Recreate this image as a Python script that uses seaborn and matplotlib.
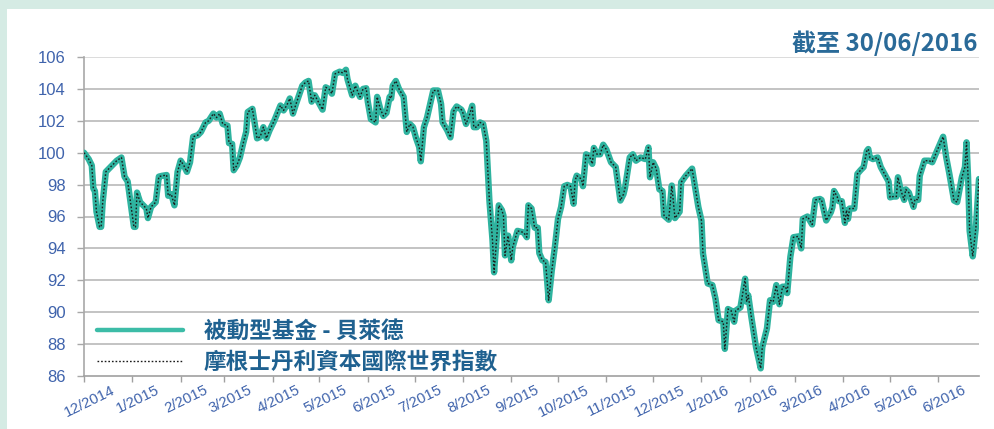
import matplotlib
matplotlib.use("Agg")
import matplotlib.pyplot as plt
import matplotlib.dates as mdates
from matplotlib.lines import Line2D
from matplotlib.patches import Rectangle
from matplotlib.ticker import FuncFormatter
from matplotlib.transforms import ScaledTranslation
import pandas as pd
import seaborn as sns

# ---------------- data ----------------
dates = [
    "2014-12-01", "2014-12-04", "2014-12-06", "2014-12-07", "2014-12-08", "2014-12-09",
    "2014-12-11", "2014-12-12", "2014-12-13", "2014-12-15", "2014-12-18", "2014-12-22",
    "2014-12-25", "2014-12-27", "2014-12-29", "2015-01-02", "2015-01-03", "2015-01-04",
    "2015-01-06", "2015-01-08", "2015-01-10", "2015-01-11", "2015-01-13", "2015-01-16",
    "2015-01-18", "2015-01-20", "2015-01-23", "2015-01-24", "2015-01-26", "2015-01-28",
    "2015-01-30", "2015-02-01", "2015-02-03", "2015-02-05", "2015-02-07", "2015-02-09",
    "2015-02-12", "2015-02-14", "2015-02-17", "2015-02-19", "2015-02-22", "2015-02-24",
    "2015-02-26", "2015-02-28", "2015-03-03", "2015-03-04", "2015-03-06", "2015-03-07",
    "2015-03-09", "2015-03-11", "2015-03-13", "2015-03-15", "2015-03-16", "2015-03-19",
    "2015-03-22", "2015-03-24", "2015-03-26", "2015-03-28", "2015-03-30", "2015-04-02",
    "2015-04-06", "2015-04-08", "2015-04-10", "2015-04-12", "2015-04-14", "2015-04-16",
    "2015-04-20", "2015-04-22", "2015-04-24", "2015-04-26", "2015-04-28", "2015-05-01",
    "2015-05-03", "2015-05-05", "2015-05-07", "2015-05-09", "2015-05-11", "2015-05-14",
    "2015-05-16", "2015-05-18", "2015-05-19", "2015-05-22", "2015-05-24", "2015-05-27",
    "2015-05-29", "2015-05-31", "2015-06-01", "2015-06-03", "2015-06-06", "2015-06-07",
    "2015-06-09", "2015-06-11", "2015-06-13", "2015-06-15", "2015-06-16", "2015-06-17",
    "2015-06-19", "2015-06-21", "2015-06-24", "2015-06-26", "2015-06-28", "2015-06-30",
    "2015-07-02", "2015-07-04", "2015-07-05", "2015-07-07", "2015-07-09", "2015-07-11",
    "2015-07-13", "2015-07-16", "2015-07-18", "2015-07-19", "2015-07-22", "2015-07-24",
    "2015-07-26", "2015-07-28", "2015-07-31", "2015-08-01", "2015-08-03", "2015-08-05",
    "2015-08-07", "2015-08-08", "2015-08-10", "2015-08-12", "2015-08-14", "2015-08-16",
    "2015-08-18", "2015-08-20", "2015-08-21", "2015-08-23", "2015-08-24", "2015-08-26",
    "2015-08-27", "2015-08-28", "2015-08-30", "2015-09-01", "2015-09-02", "2015-09-05",
    "2015-09-09", "2015-09-11", "2015-09-12", "2015-09-14", "2015-09-16", "2015-09-18",
    "2015-09-19", "2015-09-21", "2015-09-23", "2015-09-24", "2015-09-25", "2015-09-27",
    "2015-09-29", "2015-10-01", "2015-10-03", "2015-10-05", "2015-10-07", "2015-10-09",
    "2015-10-11", "2015-10-12", "2015-10-13", "2015-10-16", "2015-10-17", "2015-10-19",
    "2015-10-21", "2015-10-23", "2015-10-24", "2015-10-26", "2015-10-28", "2015-10-30",
    "2015-11-01", "2015-11-04", "2015-11-07", "2015-11-10", "2015-11-12", "2015-11-13",
    "2015-11-16", "2015-11-18", "2015-11-20", "2015-11-23", "2015-11-26", "2015-11-28",
    "2015-11-29", "2015-12-01", "2015-12-03", "2015-12-05", "2015-12-07", "2015-12-08",
    "2015-12-11", "2015-12-13", "2015-12-15", "2015-12-18", "2015-12-19", "2015-12-22",
    "2015-12-26", "2015-12-28", "2015-12-30", "2016-01-01", "2016-01-02", "2016-01-05",
    "2016-01-08", "2016-01-10", "2016-01-12", "2016-01-15", "2016-01-16", "2016-01-18",
    "2016-01-20", "2016-01-22", "2016-01-23", "2016-01-26", "2016-01-29", "2016-01-30",
    "2016-01-31", "2016-02-02", "2016-02-05", "2016-02-08", "2016-02-09", "2016-02-12",
    "2016-02-14", "2016-02-16", "2016-02-18", "2016-02-20", "2016-02-22", "2016-02-24",
    "2016-02-25", "2016-02-27", "2016-02-29", "2016-03-03", "2016-03-05", "2016-03-06",
    "2016-03-09", "2016-03-12", "2016-03-14", "2016-03-17", "2016-03-18", "2016-03-21",
    "2016-03-24", "2016-03-25", "2016-03-26", "2016-03-28", "2016-03-29", "2016-03-31",
    "2016-04-02", "2016-04-03", "2016-04-04", "2016-04-05", "2016-04-08", "2016-04-10",
    "2016-04-12", "2016-04-14", "2016-04-16", "2016-04-17", "2016-04-18", "2016-04-20",
    "2016-04-23", "2016-04-25", "2016-04-28", "2016-04-30", "2016-05-01", "2016-05-03",
    "2016-05-05", "2016-05-06", "2016-05-08", "2016-05-10", "2016-05-11", "2016-05-13",
    "2016-05-16", "2016-05-17", "2016-05-19", "2016-05-20", "2016-05-23", "2016-05-26",
    "2016-05-28", "2016-05-31", "2016-06-04", "2016-06-06", "2016-06-08", "2016-06-11",
    "2016-06-13", "2016-06-16", "2016-06-18", "2016-06-19", "2016-06-20", "2016-06-21",
    "2016-06-23", "2016-06-25", "2016-06-27",
]

fund_values = [
    100.0, 99.6, 99.2, 97.75, 97.6, 96.3,
    95.35, 95.35, 96.9, 98.8, 99.1, 99.5,
    99.7, 98.5, 98.2, 95.35, 95.35, 97.5,
    96.9, 96.7, 96.5, 95.9, 96.6, 96.9,
    98.5, 98.55, 98.6, 97.3, 97.4, 96.7,
    98.8, 99.5, 99.2, 98.8, 99.4, 101.0,
    101.1, 101.3, 101.9, 102.0, 102.45, 102.2,
    102.45, 101.8, 101.7, 100.6, 100.55, 98.9,
    99.2, 99.7, 100.55, 101.3, 102.55, 102.75,
    100.9, 101.0, 101.6, 100.9, 101.4, 102.0,
    102.96, 102.65, 102.96, 103.4, 102.45, 103.06,
    104.2, 104.4, 104.5, 103.2, 103.6, 103.06,
    102.7, 104.1, 104.0, 103.7, 104.94, 105.08,
    105.0, 105.2, 104.6, 103.6, 104.2, 103.5,
    104.0, 104.04, 103.2, 102.1, 101.9, 103.5,
    102.75, 102.3, 102.5, 103.5, 103.4, 104.2,
    104.5, 104.0, 103.5, 101.3, 101.8, 101.6,
    100.9, 100.35, 99.46, 101.6, 102.2, 103.06,
    103.9, 103.9, 103.06, 101.9, 101.4, 100.96,
    102.6, 102.9, 102.7, 102.5, 101.8, 102.3,
    102.94, 101.6, 101.6, 101.9, 101.8, 100.75,
    97.0, 94.5, 92.5, 95.1, 96.7, 96.4,
    96.06, 93.56, 94.8, 93.25, 94.1, 95.1,
    95.0, 94.7, 96.7, 96.5, 95.3, 95.3,
    93.7, 93.25, 93.15, 92.0, 90.75, 92.6,
    94.1, 95.85, 96.6, 97.9, 97.98, 97.9,
    96.8, 98.25, 98.56, 98.35, 97.9, 99.9,
    99.8, 99.3, 100.3, 99.9, 99.9, 100.5,
    100.2, 99.4, 99.1, 97.0, 97.4, 97.8,
    99.7, 99.9, 99.5, 99.7, 99.6, 100.33,
    98.46, 99.4, 99.0, 97.7, 97.6, 96.06,
    95.8, 97.94, 95.9, 96.3, 98.15, 98.56,
    99.0, 97.8, 96.6, 95.75, 93.67, 91.8,
    91.7, 90.85, 89.5, 89.4, 87.7, 90.2,
    90.1, 89.4, 90.1, 90.3, 92.1, 90.65,
    91.06, 89.7, 87.8, 86.48, 87.8, 88.98,
    90.75, 90.65, 91.7, 90.5, 91.6, 91.6,
    91.2, 93.46, 94.7, 94.75, 94.0, 95.85,
    96.0, 95.5, 97.04, 97.1, 97.04, 95.75,
    96.27, 96.58, 97.6, 97.25, 96.96, 96.96,
    95.6, 96.4, 95.85, 96.5, 96.5, 98.67,
    98.9, 99.1, 100.1, 100.23, 99.7, 99.6,
    99.7, 99.1, 98.56, 98.2, 97.2, 97.25,
    97.25, 98.46, 97.6, 97.04, 97.7, 97.5,
    96.6, 97.1, 97.04, 98.56, 99.5, 99.5,
    99.4, 100.1, 101.0, 99.7, 98.67, 97.0,
    96.9, 98.46, 99.1, 100.65, 98.46, 95.1,
    93.5, 95.3, 98.35,
]

# the index line is drawn right on top of the fund line in the reference
index_values = list(fund_values)

series_names = ["被動型基金 - 貝萊德", "摩根士丹利資本國際世界指數"]
title_text = "截至 30/06/2016"
y_ticks = [86, 88, 90, 92, 94, 96, 98, 100, 102, 104, 106]

# ---------------- styling ----------------
sns.set_theme(style="white")
plt.rcParams["font.family"] = ["Liberation Sans", "Noto Sans CJK TC", "DejaVu Sans"]

TEAL = "#2fb39f"
BLUE_TICK = "#3f63ac"
TEXT_BLUE = "#1f6190"
MINT = "#d5ebe4"

fig = plt.figure(figsize=(9.95, 4.29), dpi=100)
fig.patch.set_facecolor(MINT)
fig.add_artist(Rectangle((7 / 995, 0), 1, 1 - 9 / 429, transform=fig.transFigure,
                         facecolor="white", edgecolor="none", zorder=0))

ax = fig.add_axes([84 / 995, 1 - 376 / 429, (979 - 84) / 995, (376 - 57) / 429])
ax.set_facecolor("none")

df = pd.DataFrame({
    "date": pd.to_datetime(dates * 2),
    "value": fund_values + index_values,
    "series": [series_names[0]] * len(dates) + [series_names[1]] * len(dates),
})

sns.lineplot(data=df[df.series == series_names[0]], x="date", y="value", ax=ax,
             color=TEAL, linewidth=4.6, estimator=None, sort=False, legend=False,
             solid_joinstyle="round", zorder=3)
sns.lineplot(data=df[df.series == series_names[1]], x="date", y="value", ax=ax,
             color="#1b1b1b", linewidth=1.0, estimator=None, sort=False, legend=False,
             zorder=4)
ax.lines[-1].set_linestyle((0, (1.2, 1.4)))

ax.set_xlim(pd.Timestamp(dates[0]), pd.Timestamp(dates[-1]))
ax.set_ylim(y_ticks[0], y_ticks[-1])
ax.set_yticks(y_ticks)
ax.set_xlabel("")
ax.set_ylabel("")

# grid
for yv in y_ticks[1:]:
    ax.axhline(yv, color="#b3b3b3" if yv != y_ticks[-1] else "#d2d2d2", lw=1.1, zorder=1)

for s in ["top", "right"]:
    ax.spines[s].set_visible(False)
ax.spines["left"].set_color("#a8a8a8")
ax.spines["bottom"].set_color("#a0a0a0")
ax.spines["left"].set_linewidth(1.2)
ax.spines["bottom"].set_linewidth(1.2)

ax.xaxis.set_major_locator(mdates.MonthLocator())
ax.xaxis.set_major_formatter(FuncFormatter(
    lambda v, p: f"{mdates.num2date(v).month}/{mdates.num2date(v).year}"))
ax.tick_params(axis="x", which="major", direction="out", length=4, width=1, color="#a0a0a0",
               labelsize=10.8, labelcolor=BLUE_TICK, pad=1, bottom=True)
ax.tick_params(axis="y", which="major", direction="out", length=5, width=1, color="#a8a8a8",
               labelsize=12, labelcolor=BLUE_TICK, pad=8, left=True)
offset = ScaledTranslation(6 / 100, 0, fig.dpi_scale_trans)
for lab in ax.get_xticklabels():
    lab.set_rotation(26)
    lab.set_ha("center")
    lab.set_transform(lab.get_transform() + offset)

# legend
handles = [Line2D([0], [0], color="#3cbca7", lw=3.2),
           Line2D([0], [0], color="#1b1b1b", lw=1.0, linestyle=(0, (1.2, 1.4)))]
leg = ax.legend(handles, series_names, loc="center left",
                bbox_to_anchor=((97 - 84) / 895, (376 - 347) / 319),
                frameon=False, handlelength=3.8, handletextpad=0.92, labelspacing=0.35,
                borderaxespad=0, borderpad=0,
                prop={"family": ["Noto Sans CJK TC", "DejaVu Sans"], "size": 16.3,
                      "weight": "semibold"})
for t in leg.get_texts():
    t.set_color(TEXT_BLUE)

fig.text(978 / 995, 1 - 43 / 429, title_text, ha="right", va="center", fontsize=17.3,
         color="#2a6a98", fontweight="bold", family=["Noto Sans CJK TC", "DejaVu Sans"])

fig.savefig("out.png", dpi=100, facecolor=fig.get_facecolor())
